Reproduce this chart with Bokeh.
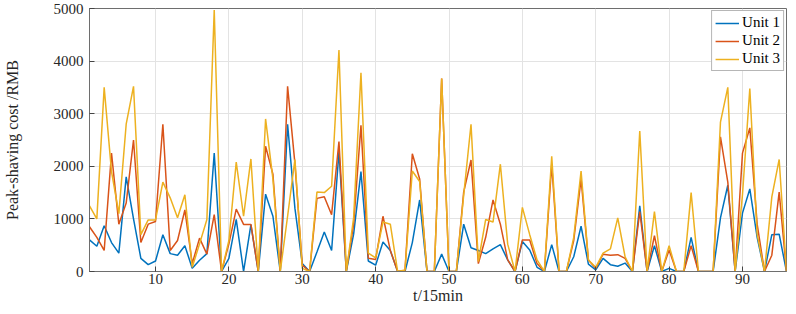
from bokeh.plotting import figure
from bokeh.models import Range1d, FixedTicker, Legend, LegendItem
from bokeh.embed import file_html
from bokeh.resources import INLINE

t = list(range(1, 97))

unit1 = [600, 480, 870, 550, 350, 1800, 1000, 250, 130, 200,
         700, 340, 310, 490, 60, 215, 340, 2250, 0, 250,
         990, 0, 890, 0, 1470, 1050, 0, 2800, 1200, 150,
         0, 370, 750, 400, 2280, 0, 710, 1900, 200, 120,
         560, 400, 0, 0, 550, 1360, 0, 0, 330, 0,
         0, 900, 450, 400, 340, 430, 510, 220, 0, 570,
         410, 80, 0, 510, 0, 0, 280, 860, 140, 30,
         250, 130, 100, 160, 0, 1250, 0, 490, 0, 60,
         0, 0, 650, 0, 0, 0, 1020, 1640, 0, 1110,
         1570, 650, 0, 700, 710, 0]

unit2 = [850, 650, 400, 2250, 900, 1300, 2500, 550, 900, 950,
         2800, 400, 590, 1170, 150, 635, 330, 1080, 0, 525,
         1185, 895, 895, 0, 2380, 1850, 0, 3520, 2050, 120,
         0, 1390, 1420, 1080, 2470, 0, 900, 2780, 250, 230,
         1050, 400, 0, 20, 2240, 1760, 0, 0, 3670, 0,
         0, 1510, 2120, 150, 650, 1360, 900, 220, 0, 600,
         600, 150, 0, 2040, 0, 0, 590, 1760, 220, 60,
         330, 310, 320, 250, 0, 1140, 0, 680, 0, 410,
         0, 0, 490, 0, 0, 0, 2560, 1700, 0, 2250,
         2730, 900, 0, 310, 1510, 0]

unit3 = [1250, 1000, 3500, 1900, 1100, 2800, 3520, 700, 980, 980,
         1700, 1400, 1020, 1460, 80, 525, 990, 4970, 0, 590,
         2080, 1050, 2140, 0, 2900, 1760, 0, 1050, 2130, 60,
         0, 1510, 1500, 1620, 4210, 0, 1020, 3780, 350, 260,
         940, 900, 0, 30, 1910, 1710, 0, 0, 3670, 0,
         0, 1450, 2800, 190, 990, 940, 2040, 520, 0, 1220,
         700, 220, 0, 2190, 0, 0, 650, 1910, 220, 80,
         350, 430, 1020, 280, 0, 2670, 0, 1140, 0, 490,
         0, 0, 1500, 0, 0, 0, 2840, 3500, 0, 1460,
         3480, 710, 0, 1420, 2130, 0]

series_names = ["Unit 1", "Unit 2", "Unit 3"]
series_colors = ["#0072BD", "#D95319", "#EDB120"]
x_ticks = [10, 20, 30, 40, 50, 60, 70, 80, 90]
y_ticks = [0, 1000, 2000, 3000, 4000, 5000]

FONT = "Liberation Serif"

p = figure(width=788, height=306, output_backend="svg", toolbar_location=None,
           x_range=Range1d(1, 96), y_range=Range1d(0, 5000),
           min_border_left=86, min_border_right=2, min_border_top=8,
           min_border_bottom=30)

p.background_fill_color = "white"
p.border_fill_color = "white"
p.outline_line_color = "#6e6e6e"
p.outline_line_width = 1

renderers = []
for ys, c in zip([unit1, unit2, unit3], series_colors):
    r = p.line(t, ys, line_color=c, line_width=1.5)
    renderers.append(r)

for ax in (p.xaxis[0], p.yaxis[0]):
    ax.major_tick_in = 5
    ax.major_tick_out = 0
    ax.minor_tick_line_color = None
    ax.axis_line_color = "#6e6e6e"
    ax.major_tick_line_color = "#444444"
    ax.major_label_text_font = FONT
    ax.major_label_text_font_size = "15px"
    ax.major_label_text_color = "#262626"
    ax.axis_label_text_font = FONT
    ax.axis_label_text_font_size = "16px"
    ax.axis_label_text_font_style = "normal"
    ax.axis_label_text_color = "#262626"

p.xaxis[0].ticker = FixedTicker(ticks=x_ticks)
p.yaxis[0].ticker = FixedTicker(ticks=y_ticks)
p.xaxis[0].axis_label = "t/15min"
p.yaxis[0].axis_label = "Peak-shaving cost /RMB"
p.xaxis[0].major_label_standoff = 2
p.xaxis[0].axis_label_standoff = 0
p.yaxis[0].major_label_standoff = 6
p.yaxis[0].axis_label_standoff = 30

p.xgrid.ticker = FixedTicker(ticks=x_ticks)
p.ygrid.ticker = FixedTicker(ticks=y_ticks)
p.xgrid.grid_line_color = "#e3e3e3"
p.ygrid.grid_line_color = "#e3e3e3"

legend = Legend(items=[LegendItem(label=n, renderers=[r]) for n, r in zip(series_names, renderers)],
                location="top_right")
legend.label_text_font = FONT
legend.label_text_font_size = "15px"
legend.label_text_color = "#000000"
legend.glyph_width = 24
legend.glyph_height = 16
legend.label_height = 16
legend.label_standoff = 3
legend.spacing = 1
legend.padding = 3
legend.margin = 2
legend.border_line_color = "#6e6e6e"
legend.background_fill_alpha = 1.0
p.add_layout(legend)

open("out.html", "w").write(file_html(p, INLINE))
